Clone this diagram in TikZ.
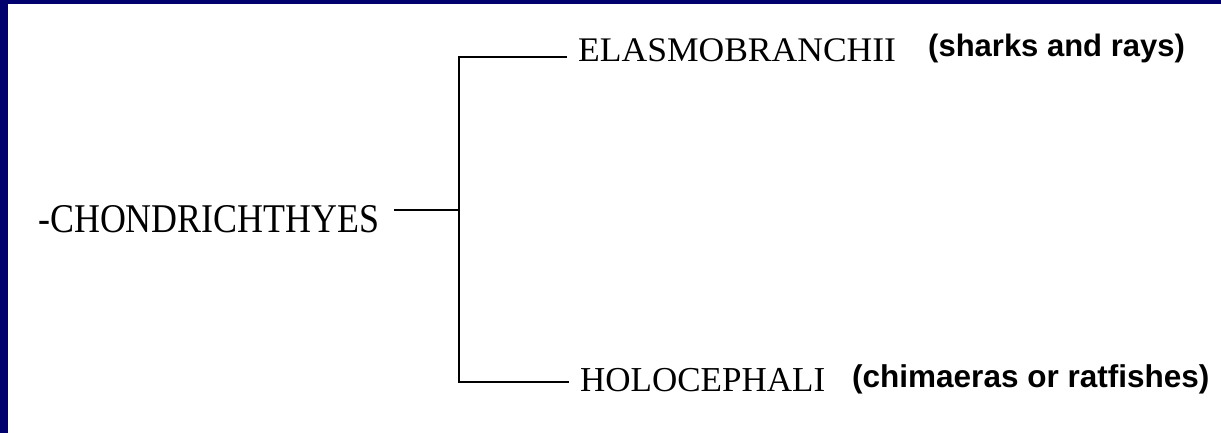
\documentclass[tikz,border=0pt]{standalone}
\usepackage{fontspec}
\setmainfont{Liberation Serif}
\newfontfamily\labelsans{Liberation Sans}
\definecolor{framenavy}{RGB}{0,0,110}
\tikzset{
  taxon/.style={inner sep=0pt, anchor=base west, font=\rmfamily},
  common/.style={inner sep=0pt, anchor=base west, font=\labelsans\bfseries},
  branch/.style={line width=2.5pt, line join=miter, black}
}
\begin{document}
\begin{tikzpicture}[x=1pt, y=-1pt]
  \useasboundingbox (0,0) rectangle (1221,433);
  \fill[framenavy] (0,0) rectangle (1221,433);
  \fill[white] (8,4.5) rectangle (1221,433);

  \node[taxon] (chond) at (38,232) {\fontsize{40.8}{44}\selectfont\scalebox{0.88}[1]{-CHONDRICHTHYES}};
  \node[taxon] (elas) at (578,62) {\fontsize{34.5}{40}\selectfont\scalebox{1.03}[1]{ELASMOBRANCHII}};
  \node[taxon] (holo) at (580,391) {\fontsize{35}{40}\selectfont HOLOCEPHALI};
  \node[common] (sharks) at (928,57) {\fontsize{31}{36}\selectfont (sharks and rays)};
  \node[common] (chim) at (852,387) {\fontsize{31.5}{36}\selectfont (chimaeras or ratfishes)};

  \coordinate (jt) at (459,57);
  \coordinate (jm) at (459,210);
  \coordinate (jb) at (459,382);

  \draw[branch] ([xshift=-11pt]elas.west |- jt) -- (jt) -- (jb) -- ([xshift=-11pt]holo.west |- jb);
  \draw[branch] ([xshift=15pt]chond.east |- jm) -- (jm);
\end{tikzpicture}
\end{document}
